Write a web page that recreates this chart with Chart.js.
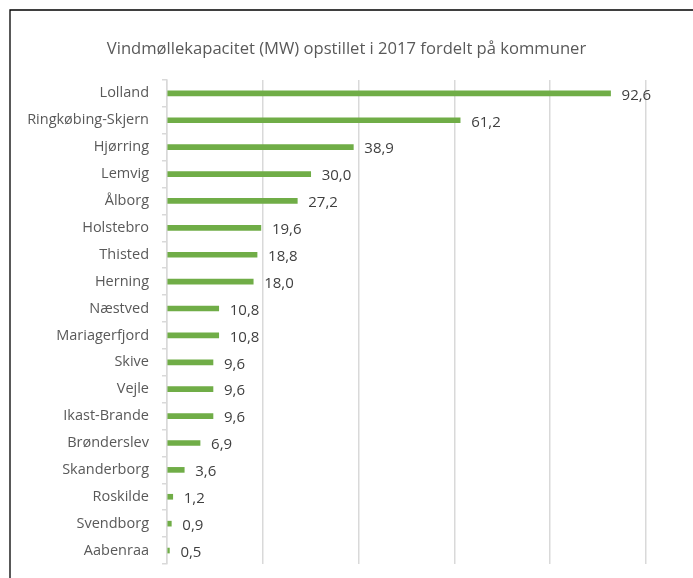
<!DOCTYPE html>
<html>
<head>
<meta charset="utf-8">
<script src="https://cdn.jsdelivr.net/npm/chart.js@4.4.0/dist/chart.umd.min.js"></script>
<style>
  html, body { margin: 0; padding: 0; background: #fff; }
</style>
</head>
<body>
<canvas id="myChart" width="693" height="578"></canvas>
<script>
// kommuner og MW opstillet i 2017
var kommuner = ['Lolland', 'Ringkøbing-Skjern', 'Hjørring', 'Lemvig', 'Ålborg', 'Holstebro', 'Thisted', 'Herning',
    'Næstved', 'Mariagerfjord', 'Skive', 'Vejle', 'Ikast-Brande', 'Brønderslev', 'Skanderborg', 'Roskilde',
    'Svendborg', 'Aabenraa'];
var mw = [92.6, 61.2, 38.9, 30.0, 27.2, 19.6, 18.8, 18.0, 10.8, 10.8, 9.6, 9.6, 9.6, 6.9, 3.6, 1.2, 0.9, 0.5];
var xTicks = [0, 20, 40, 60, 80, 100];

var fontName = '"Open Sans", "Noto Sans", sans-serif';

// ramme rundt om diagrammet (kun venstre og top er synlige)
var framePlugin = {
    id: 'frame',
    beforeDraw: function(chart) {
        var c = chart.ctx;
        c.save();
        c.fillStyle = '#fff';
        c.fillRect(0, 0, chart.width, chart.height);
        c.strokeStyle = '#000';
        c.lineWidth = 1.3;
        c.beginPath();
        c.moveTo(10, chart.height);
        c.lineTo(10, 10);
        c.lineTo(chart.width, 10);
        c.stroke();
        c.restore();
    }
};

// værdier ud for hver søjle, med komma som decimaltegn
var labelPlugin = {
    id: 'barLabels',
    afterDatasetsDraw: function(chart) {
        var c = chart.ctx;
        var meta = chart.getDatasetMeta(0);
        c.save();
        c.font = '15px ' + fontName;
        c.fillStyle = '#404040';
        c.textAlign = 'left';
        c.textBaseline = 'middle';
        meta.data.forEach(function(bar, i) {
            var txt = mw[i].toFixed(1).replace('.', ',');
            c.fillText(txt, bar.x + 11, bar.y + 2);
        });
        c.restore();
    }
};

var ctx = document.getElementById('myChart').getContext('2d');
var chart = new Chart(ctx, {
    type: 'bar',
    data: {
        labels: kommuner,
        datasets: [{
            label: 'MW',
            data: mw,
            backgroundColor: '#70AD47',
            borderWidth: 0,
            barThickness: 5
        }]
    },
    options: {
        indexAxis: 'y',
        responsive: false,
        animation: false,
        layout: { padding: { top: 29, right: 0, bottom: 14, left: 0 } },
        plugins: {
            legend: { display: false },
            tooltip: { enabled: false },
            title: {
                display: true,
                text: 'Vindmøllekapacitet (MW) opstillet i 2017 fordelt på kommuner',
                color: '#595959',
                font: { family: fontName, size: 16.6, weight: 'normal' },
                padding: { top: 10, bottom: 21 }
            }
        },
        scales: {
            x: {
                min: xTicks[0],
                max: xTicks[xTicks.length - 1],
                afterBuildTicks: function(scale) {
                    scale.ticks = xTicks.map(function(v) { return { value: v }; });
                },
                ticks: { display: false },
                border: { display: false },
                grid: { color: '#d9d9d9', lineWidth: 1.5, drawTicks: false },
                afterFit: function(scale) { scale.height = 0; }
            },
            y: {
                afterFit: function(scale) {
                    scale.width = 167;
                    // ingen ekstra luft over/under kategorierne
                    scale.paddingTop = 0;
                    scale.paddingBottom = 0;
                },
                ticks: {
                    color: '#595959',
                    font: { family: fontName, size: 14.5 },
                    padding: 13,
                    autoSkip: false
                },
                border: { color: '#d9d9d9', width: 1.5 },
                grid: {
                    offset: true,
                    drawOnChartArea: false,
                    drawTicks: true,
                    tickLength: 5,
                    color: '#d9d9d9',
                    lineWidth: 1.5
                }
            },
            // tom akse til højre, så plotområdet slutter ved 100 og titlen står midt i rammen
            yRight: {
                position: 'right',
                display: true,
                ticks: { display: false },
                grid: { display: false },
                border: { display: false },
                afterFit: function(scale) {
                    scale.width = 47;
                    scale.paddingTop = 0;
                    scale.paddingBottom = 0;
                }
            }
        }
    },
    plugins: [framePlugin, labelPlugin]
});
</script>
</body>
</html>
